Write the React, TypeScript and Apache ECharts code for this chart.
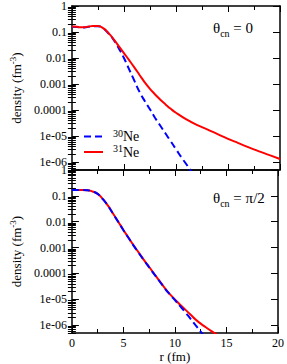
import React, { useEffect, useRef } from 'react';
import * as echarts from 'echarts';

// r (fm)
const rTop31 = [0, 0.5, 1, 1.5, 2, 2.5, 3, 3.5, 4, 4.5, 5, 5.5, 6, 6.5, 7, 7.5, 8, 8.5, 9, 9.5, 10, 11, 12, 13, 14, 15, 16, 17, 18, 19, 20];
const rhoTop31 = [0.162, 0.158, 0.151, 0.158, 0.170, 0.170, 0.141, 0.093, 0.0537, 0.0288, 0.0155, 0.0083, 0.00437, 0.00224, 0.00117, 6.6e-4, 4.0e-4, 2.5e-4, 1.66e-4, 1.12e-4, 7.9e-5, 4.4e-5, 2.7e-5, 1.82e-5, 1.2e-5, 7.9e-6, 5.4e-6, 3.7e-6, 2.6e-6, 1.86e-6, 1.32e-6];

const rTop30 = [0, 0.5, 1, 1.5, 2, 2.5, 3, 3.5, 4, 4.5, 5, 5.5, 6, 6.5, 7, 7.5, 8, 8.5, 9, 9.5, 10, 10.5, 11, 11.5, 12];
const rhoTop30 = [0.160, 0.156, 0.149, 0.156, 0.168, 0.168, 0.138, 0.090, 0.051, 0.024, 0.010, 0.0037, 0.00135, 5.0e-4, 2.24e-4, 1.07e-4, 5.0e-5, 2.5e-5, 1.26e-5, 6.3e-6, 3.16e-6, 1.58e-6, 8.3e-7, 4.2e-7, 2.1e-7];

const rBot31 = [0, 0.5, 1, 1.5, 2, 2.5, 3, 3.5, 4, 4.5, 5, 5.5, 6, 6.5, 7, 7.5, 8, 8.5, 9, 9.5, 10, 10.5, 11, 11.5, 12, 12.5, 13, 13.5, 14, 14.5];
const rhoBot31 = [0.17, 0.17, 0.17, 0.166, 0.148, 0.12, 0.076, 0.042, 0.0204, 0.01, 0.0048, 0.0024, 0.0012, 6.3e-4, 3.3e-4, 1.78e-4, 9.5e-5, 5.2e-5, 2.8e-5, 1.6e-5, 1.0e-5, 6.2e-6, 4.0e-6, 2.6e-6, 1.66e-6, 1.15e-6, 8.3e-7, 6.0e-7, 4.5e-7, 3.3e-7];

const rBot30 = [0, 0.5, 1, 1.5, 2, 2.5, 3, 3.5, 4, 4.5, 5, 5.5, 6, 6.5, 7, 7.5, 8, 8.5, 9, 9.5, 10, 10.5, 11, 11.5, 12, 12.5, 13];
const rhoBot30 = [0.169, 0.169, 0.169, 0.165, 0.147, 0.119, 0.075, 0.0415, 0.0201, 0.0098, 0.0047, 0.00235, 0.00117, 6.1e-4, 3.2e-4, 1.72e-4, 9.2e-5, 5.0e-5, 2.7e-5, 1.55e-5, 9.3e-6, 5.5e-6, 3.2e-6, 1.8e-6, 1.0e-6, 5.6e-7, 3.1e-7];

// axis ticks / labels
const xTicks = [0, 5, 10, 15, 20];
const decadeValues = [1e-6, 1e-5, 1e-4, 1e-3, 1e-2, 1e-1, 1];
const decadeLabels = ['1e-06', '1e-05', '0.0001', '0.001', '0.01', '0.1', '1'];
const minorMantissas = [2, 3, 4, 5, 6, 7, 8, 9];
const yMin = 5e-7;
const yMax = 1;

const FONT = 'Liberation Serif';

const minorValues: number[] = [];
for (const d of [1e-7, ...decadeValues.slice(0, -1)]) {
  for (const m of minorMantissas) {
    const v = m * d;
    if (v >= yMin && v <= yMax) minorValues.push(v);
  }
}

const zip = (xs: number[], ys: number[]) => xs.map((x, i) => [x, ys[i]]);

const labelFor = (v: number) => {
  const i = decadeValues.findIndex((d) => Math.abs(Math.log10(v) - Math.log10(d)) < 1e-6);
  return i >= 0 ? decadeLabels[i] : '';
};

const axisLine = { show: true, onZero: false, lineStyle: { color: '#000', width: 1.5 } };

function makeX(gridIndex: number, position: 'top' | 'bottom', labels: boolean) {
  return {
    type: 'value',
    gridIndex,
    position,
    min: xTicks[0],
    max: xTicks[xTicks.length - 1],
    interval: 5,
    axisLine,
    axisTick: { show: true, inside: true, length: 6, lineStyle: { color: '#000', width: 1 } },
    minorTick: { show: true, splitNumber: 2, length: 4, lineStyle: { color: '#000', width: 1 } },
    splitLine: { show: false },
    axisLabel: labels
      ? { show: true, fontFamily: FONT, fontSize: 12, color: '#000', margin: 4 }
      : { show: false },
    name: labels && position === 'bottom' ? 'r (fm)' : '',
    nameLocation: 'middle',
    nameGap: 17,
    nameTextStyle: { fontFamily: FONT, fontSize: 13, color: '#000' },
  };
}

function makeY(gridIndex: number, position: 'left' | 'right', major: boolean) {
  return {
    type: 'log',
    logBase: 10,
    gridIndex,
    position,
    min: yMin,
    max: yMax,
    axisLine: major ? axisLine : { show: false },
    axisTick: {
      show: true,
      inside: true,
      length: major ? 7 : 4,
      customValues: major ? decadeValues : minorValues,
      lineStyle: { color: '#000', width: 1 },
    },
    splitLine: { show: false },
    minorTick: { show: false },
    axisLabel:
      major && position === 'left'
        ? {
            show: true,
            customValues: decadeValues,
            formatter: (v: number) => labelFor(v),
            fontFamily: FONT,
            fontSize: 12,
            color: '#000',
            margin: 5,
          }
        : { show: false },
    name: major && position === 'left' ? 'density (fm{sup|-3})' : '',
    nameLocation: 'middle',
    nameGap: 44,
    nameRotate: 90,
    nameTextStyle: {
      fontFamily: FONT,
      fontSize: 13,
      color: '#000',
      rich: { sup: { fontFamily: FONT, fontSize: 9, color: '#000', padding: [0, 0, 8, 0] } },
    },
  };
}

function App() {
  const ref = useRef<HTMLDivElement>(null);
  useEffect(() => {
    const chart = echarts.init(ref.current!, null, { renderer: 'svg' });
    const lineBlue = { color: '#0000ff', width: 2, type: [7, 4] as any };
    const lineRed = { color: '#ff0000', width: 2, type: 'solid' };
    const option: any = {
      animation: false,
      backgroundColor: '#fff',
      grid: [
        { left: 61, top: 5, width: 219, height: 165 },
        { left: 61, top: 170, width: 219, height: 163 },
      ],
      xAxis: [makeX(0, 'bottom', false), makeX(0, 'top', false), makeX(1, 'bottom', true), makeX(1, 'top', false)],
      yAxis: [
        makeY(0, 'left', true),
        makeY(0, 'left', false),
        makeY(0, 'right', true),
        makeY(0, 'right', false),
        makeY(1, 'left', true),
        makeY(1, 'left', false),
        makeY(1, 'right', true),
        makeY(1, 'right', false),
      ],
      legend: {
        orient: 'vertical',
        left: 78,
        top: 123,
        itemWidth: 19,
        itemHeight: 12,
        itemGap: 0,
        itemStyle: { opacity: 0 },
        data: ['30Ne', '31Ne'],
        formatter: (n: string) => (n === '30Ne' ? '{sup|30}{b|Ne}' : '{sup|31}{b|Ne}'),
        textStyle: {
          fontFamily: FONT,
          fontSize: 14,
          color: '#000',
          padding: [0, 0, 0, 5],
          rich: {
            sup: { fontFamily: FONT, fontSize: 10, color: '#000', padding: [0, 0, 7, 0] },
            b: { fontFamily: FONT, fontSize: 14, color: '#000' },
          },
        },
      },
      series: [
        { name: '30Ne', type: 'line', xAxisIndex: 0, yAxisIndex: 0, data: zip(rTop30, rhoTop30), showSymbol: false, symbol: 'none', smooth: true, lineStyle: lineBlue, itemStyle: { color: '#0000ff' } },
        { name: '31Ne', type: 'line', xAxisIndex: 0, yAxisIndex: 0, data: zip(rTop31, rhoTop31), showSymbol: false, symbol: 'none', smooth: true, lineStyle: lineRed, itemStyle: { color: '#ff0000' } },
        { name: '31Ne', type: 'line', xAxisIndex: 2, yAxisIndex: 4, data: zip(rBot31, rhoBot31), showSymbol: false, symbol: 'none', smooth: true, lineStyle: lineRed, itemStyle: { color: '#ff0000' } },
        { name: '30Ne', type: 'line', xAxisIndex: 2, yAxisIndex: 4, data: zip(rBot30, rhoBot30), showSymbol: false, symbol: 'none', smooth: true, lineStyle: lineBlue, itemStyle: { color: '#0000ff' } },
      ],
      graphic: [
        {
          type: 'text',
          x: 213,
          y: 28,
          style: {
            text: 'θ{sub|cn} = 0',
            fontFamily: FONT,
            fontSize: 15,
            fill: '#000',
            verticalAlign: 'middle',
            align: 'left',
            rich: { sub: { fontFamily: FONT, fontSize: 10, fill: '#000', padding: [10, 0, 0, 0] } },
          },
        },
        {
          type: 'text',
          x: 213,
          y: 198,
          style: {
            text: 'θ{sub|cn} = π/2',
            fontFamily: FONT,
            fontSize: 15,
            fill: '#000',
            verticalAlign: 'middle',
            align: 'left',
            rich: { sub: { fontFamily: FONT, fontSize: 10, fill: '#000', padding: [10, 0, 0, 0] } },
          },
        },
      ],
    };
    chart.setOption(option);
    return () => chart.dispose();
  }, []);
  return <div ref={ref} style={{ position: 'absolute', left: 0, top: 0, width: 287, height: 364 }} />;
}

export default App;
